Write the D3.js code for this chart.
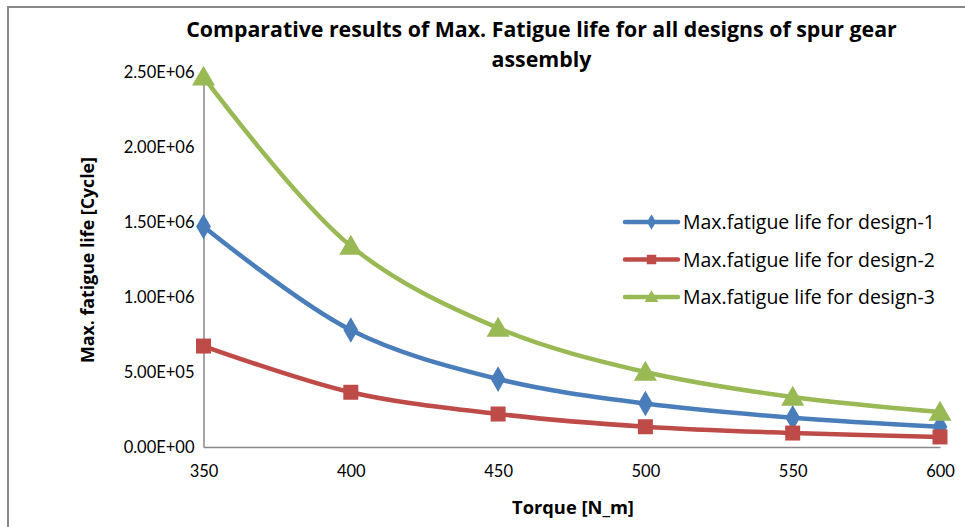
<!DOCTYPE html>
<html><head><meta charset="utf-8">
<script src="https://cdn.jsdelivr.net/npm/d3@7"></script>
<style>body{margin:0;background:#fff;} svg{display:block;font-family:"Open Sans",Lato,sans-serif;}</style>
</head><body><svg id="c" width="965" height="527"></svg>
<script>
const torque = [350, 400, 450, 500, 550, 600];
const design1 = [1.47e6, 7.8e5, 4.53e5, 2.9e5, 1.95e5, 1.35e5];
const design2 = [6.73e5, 3.65e5, 2.2e5, 1.35e5, 9.3e4, 6.7e4];
const design3 = [2.467e6, 1.34e6, 7.93e5, 5.0e5, 3.33e5, 2.33e5];
const seriesNames = ["Max.fatigue life for design-1", "Max.fatigue life for design-2", "Max.fatigue life for design-3"];
const colors = ["#4A7EBB", "#BE4B48", "#98B954"];
const yTicks = [0, 5e5, 1e6, 1.5e6, 2e6, 2.5e6];
const titleLines = ["Comparative results of Max. Fatigue life for all designs of spur gear", "assembly"];

const FONT = "'Open Sans',Lato,sans-serif";
const TICKFONT = "Lato,'Open Sans',sans-serif";
const svg = d3.select("#c");
const x = d3.scaleLinear().domain([350, 600]).range([203.5, 940]);
const y = d3.scaleLinear().domain([0, 2.5e6]).range([447, 72]);

function fit(sel, target) {
  sel.each(function () {
    const fs = parseFloat(d3.select(this).attr("font-size"));
    const w = this.getComputedTextLength();
    d3.select(this).attr("font-size", fs * target / w);
  });
}

svg.append("path").attr("d", "M8,527 L8,7 L965,7").attr("fill", "none").attr("stroke", "#888").attr("stroke-width", 2);

// title
const t = svg.append("g").selectAll("text").data(titleLines).join("text")
  .attr("x", 541.5).attr("y", (d, i) => 37 + i * 30)
  .attr("text-anchor", "middle").attr("font-weight", "bold").attr("font-size", 20).attr("fill", "#000")
  .text(d => d);
const t0 = t.filter((d, i) => i === 0);
fit(t0, 711);
t.filter((d, i) => i === 1).attr("font-size", t0.attr("font-size"));

// axes
const fmt = v => { const s = v.toExponential(2).toUpperCase(); return s.replace(/E([+-])(\d)$/, "E$10$2"); };
const yAxis = svg.append("g").attr("transform", "translate(203.5,0)")
  .call(d3.axisLeft(y).tickValues(yTicks).tickSize(0).tickPadding(9).tickFormat(fmt));
yAxis.select(".domain").attr("stroke", "#888").attr("stroke-width", 1.5);
yAxis.selectAll("text").attr("font-size", 16.5).attr("fill", "#000").attr("font-family", TICKFONT).attr("dy", "0.36em");

const xAxis = svg.append("g").attr("transform", "translate(0,447)")
  .call(d3.axisBottom(x).tickValues(torque).tickSize(0).tickPadding(18).tickFormat(d3.format("d")));
xAxis.select(".domain").attr("stroke", "#888").attr("stroke-width", 1.5);
xAxis.selectAll("text").attr("font-size", 16.5).attr("fill", "#000").attr("font-family", TICKFONT);

// axis titles
const xt = svg.append("text").attr("x", 573).attr("y", 514).attr("text-anchor", "middle")
  .attr("font-weight", "bold").attr("font-size", 16).text("Torque [N_m]");
fit(xt, 122);
const yt = svg.append("text").attr("transform", "translate(94,260) rotate(-90)").attr("text-anchor", "middle")
  .attr("font-weight", "bold").attr("font-size", 16).text("Max. fatigue life [Cycle]");
fit(yt, 206);

const seriesData = [design1, design2, design3];
const symbols = [d3.symbolDiamond, d3.symbolSquare, d3.symbolTriangle];
const symSizes = [190, 225, 230];
const line = d3.line().x((d, i) => x(torque[i])).y(d => y(d)).curve(d3.curveCatmullRom.alpha(0.5));

seriesData.forEach((vals, k) => {
  const g = svg.append("g");
  g.append("path").attr("d", line(vals)).attr("fill", "none").attr("stroke", colors[k]).attr("stroke-width", 4.5).attr("stroke-linecap", "round");
  g.selectAll("path.m").data(vals).join("path").attr("class", "m")
    .attr("transform", (d, i) => `translate(${x(torque[i])},${y(d) + (k === 2 ? 2 : 0)})`)
    .attr("d", d3.symbol().type(symbols[k]).size(symSizes[k])).attr("fill", colors[k]);
});

// legend
const leg = svg.append("g");
seriesNames.forEach((n, k) => {
  const ly = 222 + k * 37.5;
  leg.append("line").attr("x1", 625).attr("x2", 678).attr("y1", ly).attr("y2", ly).attr("stroke", colors[k]).attr("stroke-width", 4.5).attr("stroke-linecap", "round");
  leg.append("path").attr("transform", `translate(651.5,${ly + (k === 2 ? 1 : 0)})`).attr("d", d3.symbol().type(symbols[k]).size([70, 90, 80][k])).attr("fill", colors[k]);
  const tx = leg.append("text").attr("x", 683).attr("y", ly).attr("dy", "0.36em").attr("font-size", 17).attr("fill", "#000").text(n);
  fit(tx, 252);
});
</script></body></html>
